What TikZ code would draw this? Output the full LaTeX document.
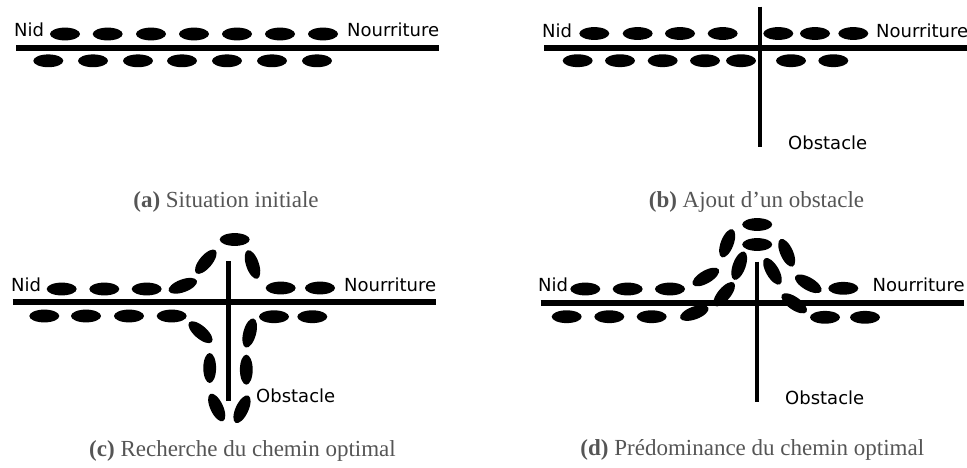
\documentclass[tikz,border=0pt]{standalone}
\usepackage{fontspec}
\usetikzlibrary{shapes.geometric}
\newfontfamily\lblfont{DejaVu Sans}
\newfontfamily\capfont{Liberation Serif}
\definecolor{capgrey}{HTML}{555555}
\tikzset{
  ant/.style={ellipse, fill=black, inner sep=0pt, outer sep=0pt, minimum width=30pt, minimum height=12.8pt},
  lbl/.style={font=\lblfont\fontsize{18}{21}\selectfont, inner sep=0pt, anchor=base west},
  captext/.style={font=\capfont\fontsize{23}{27}\selectfont, text=capgrey, inner sep=0pt, anchor=base},
  trail/.style={line width=6pt},
  wall/.style={line width=4.5pt}
}
\begin{document}
\begin{tikzpicture}[x=1pt,y=-1pt]
\useasboundingbox (0,0) rectangle (967,467);
% ---------- (a) ----------
\coordinate (aL) at (16,47.7); \coordinate (aR) at (439,47.7);
\draw[trail] (aL) -- (aR);
\node[lbl] (aNid) at (14,36.7) {Nid};
\node[lbl] (aFood) at (347,36.7) {Nourriture};
\foreach \x [count=\i] in {65,107.7,151,194,237,280,323} \node[ant] (at\i) at (\x,34) {};
\foreach \x [count=\i] in {48.3,93,138,182,227,272,317} \node[ant] (ab\i) at (\x,60.8) {};
\node[captext] (acap) at (226,207.3) {{\bfseries (a)} Situation initiale};
% ---------- (b) ----------
\coordinate (bL) at (544,47.7); \coordinate (bR) at (967,47.7);
\coordinate (bT) at (760,6.7); \coordinate (bB) at (760,146.7);
\draw[trail] (bL) -- (bR);
\draw[wall] (bT) -- (bB);
\node[lbl] (bNid) at (542,37.5) {Nid};
\node[lbl] (bFood) at (876,37.5) {Nourriture};
\node[lbl] (bObs) at (788,149.3) {Obstacle};
\foreach \x [count=\i] in {594.3,637.7,680,722.7,778.3,815,853.3} \node[ant] (bt\i) at (\x,33.5) {};
\foreach \x [count=\i] in {577.7,620,662.7,705,741,791,833.3} \node[ant] (bb\i) at (\x,60.7) {};
\node[captext] (bcap) at (756.5,207.3) {{\bfseries (b)} Ajout d’un obstacle};
% ---------- (c) ----------
\coordinate (cL) at (12.7,302); \coordinate (cR) at (435.7,302);
\coordinate (cT) at (228.3,261); \coordinate (cB) at (228.3,401);
\draw[trail] (cL) -- (cR);
\draw[wall] (cT) -- (cB);
\node[lbl] (cNid) at (11,291) {Nid};
\node[lbl] (cFood) at (344,291) {Nourriture};
\node[lbl] (cObs) at (256,402.7) {Obstacle};
\foreach \x/\y/\r [count=\i] in {61.7/289/0,104.3/289/0,146.7/289/0,182.8/285.8/20,205.8/261.7/50,234.7/239.5/0,252.5/264.5/-71,280.7/288/0,320/288/0}
  \node[ant, rotate=\r] (ct\i) at (\x,\y) {};
\foreach \x/\y/\r [count=\i] in {44.3/316/0,86/316/0,129/316/0,171.7/316/0,200.5/332.2/-41,209.7/368/90,216.7/407.5/-65,242/409.2/65,246.3/369.7/90,249.7/333/75,274/316.7/0,312.3/316.7/0}
  \node[ant, rotate=\r] (cb\i) at (\x,\y) {};
\node[captext] (ccap) at (242.5,456) {{\bfseries (c)} Recherche du chemin optimal};
% ---------- (d) ----------
\coordinate (dL) at (540.7,302.8); \coordinate (dR) at (964,302.8);
\coordinate (dT) at (757,261.7); \coordinate (dB) at (757,401.7);
\draw[trail] (dL) -- (dR);
\draw[wall] (dT) -- (dB);
\node[lbl] (dNid) at (538,291.7) {Nid};
\node[lbl] (dFood) at (872.5,291.7) {Nourriture};
\node[lbl] (dObs) at (785,404.3) {Obstacle};
\foreach \x/\y/\r [count=\i] in {585.3/289/0,627.7/289/0,670/289/0,705.8/277/30,724.2/294.2/50,739.2/265.7/70,727.2/243.3/69,757.2/224.5/0,757.2/244.5/0,786.7/252.8/-66,772.5/271.3/-60,808.3/283.8/-30,843.3/288.3/0}
  \node[ant, rotate=\r] (dt\i) at (\x,\y) {};
\foreach \x/\y/\r [count=\i] in {566.7/316.7/0,609.3/316.7/0,651.7/316.7/0,694.3/313/20,794.2/303.3/-35,825/317.3/0,865/317.3/0}
  \node[ant, rotate=\r] (db\i) at (\x,\y) {};
\node[captext] (dcap) at (752.3,455) {{\bfseries (d)} Prédominance du chemin optimal};
\end{tikzpicture}
\end{document}
